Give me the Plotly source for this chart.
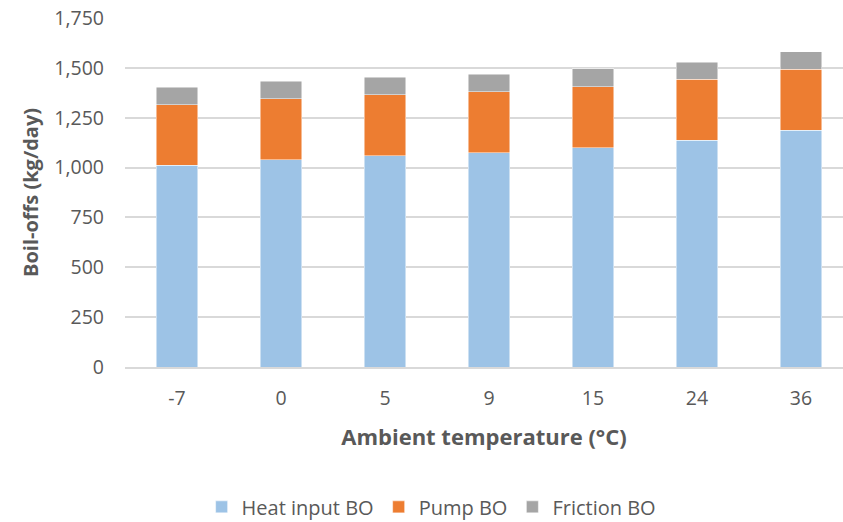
import plotly.graph_objects as go

# Ambient temperatures (°C) and boil-off components (kg/day)
temperatures = ["-7", "0", "5", "9", "15", "24", "36"]
heat_input_bo = [1011, 1038, 1060, 1075, 1100, 1138, 1188]
pump_bo = [304, 306, 306, 306, 306, 305, 305]
friction_bo = [89, 90, 87, 88, 90, 86, 87]

y_ticks = [0, 250, 500, 750, 1000, 1250, 1500, 1750]

FONT = "'Open Sans', Lato, sans-serif"
TEXT = "#595959"

fig = go.Figure()
series = [
    ("Heat input BO", heat_input_bo, "#9DC3E6"),
    ("Pump BO", pump_bo, "#ED7D31"),
    ("Friction BO", friction_bo, "#A5A5A5"),
]
for name, vals, color in series:
    fig.add_trace(go.Bar(
        x=temperatures, y=vals, name=name,
        marker=dict(color=color, line=dict(color="rgba(255,255,255,0.6)", width=0.8)),
    ))

fig.update_layout(
    width=843, height=522,
    margin=dict(l=125, r=0, t=18, b=155, autoexpand=False),
    barmode="stack", bargap=0.6,
    plot_bgcolor="white", paper_bgcolor="white",
    font=dict(family=FONT, size=19.5, color=TEXT),
    showlegend=True,
    legend=dict(
        orientation="h", xref="container", x=0.512, xanchor="center",
        yref="container", y=0.029, yanchor="middle",
        traceorder="normal", font=dict(size=20, color=TEXT),
        itemwidth=30,
    ),
    xaxis=dict(
        type="category", range=[-0.5, 6.404],
        showline=True, linecolor="#D9D9D9", linewidth=1.5,
        showgrid=False, ticks="", ticklabelstandoff=13,
        tickfont=dict(size=19.5, color=TEXT),
        title=dict(text="<b>Ambient temperature (°C)</b>", standoff=19,
                   font=dict(size=22, color=TEXT)),
    ),
    yaxis=dict(
        range=[0, 1750], tickvals=y_ticks, tickformat=",d",
        showgrid=True, gridcolor="#D9D9D9", gridwidth=1.5,
        zeroline=False, showline=False, ticks="", ticklabelstandoff=20,
        tickfont=dict(size=19.5, color=TEXT),
        title=dict(text="<b>Boil-offs (kg/day)</b>", standoff=10,
                   font=dict(size=20, color=TEXT)),
    ),
)

fig.write_html("out.html")
